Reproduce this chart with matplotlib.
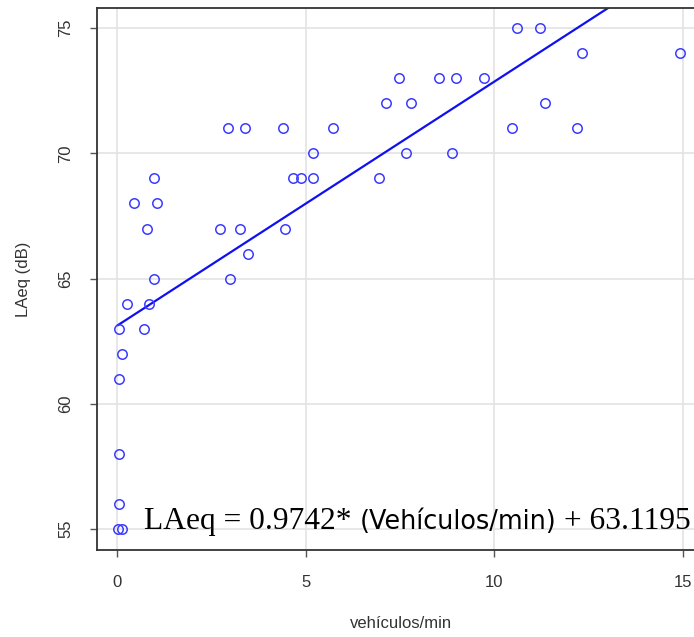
import numpy as np
import matplotlib
matplotlib.use("Agg")
import matplotlib.pyplot as plt

# vehicles per minute vs measured LAeq (dB)
veh_min = [0.05, 0.72, 0.13, 0.05, 0.05, 0.05, 0.03, 0.12,
           0.26, 0.86, 0.99, 2.99, 3.46, 0.80, 2.72, 3.25, 4.46,
           0.46, 1.06, 0.99, 4.66, 4.88, 5.19, 6.94, 5.19, 7.67, 8.87,
           2.93, 3.40, 4.40, 5.73, 10.47, 12.20, 7.13, 7.79, 11.34,
           7.47, 8.53, 8.99, 9.73, 12.33, 14.93, 10.60, 11.20]
laeq = [63, 63, 62, 61, 58, 56, 55, 55,
        64, 64, 65, 65, 66, 67, 67, 67, 67,
        68, 68, 69, 69, 69, 69, 69, 70, 70, 70,
        71, 71, 71, 71, 71, 71, 72, 72, 72,
        73, 73, 73, 73, 74, 74, 75, 75]

# regression coefficients shown on the chart
slope = 0.9742
intercept = 63.1195

x_ticks = [0, 5, 10, 15]
y_ticks = [55, 60, 65, 70, 75]

W, H = 694, 637
fig = plt.figure(figsize=(W / 100, H / 100), dpi=100)
ax = fig.add_axes([97 / W, (H - 550) / H, 608.6 / W, 542 / H])

ax.set_xlim(-0.53, 15.6)
ax.set_ylim(54.17, 75.8)

for xv in x_ticks:
    ax.axvline(xv, color="#e3e3e3", lw=1.2, zorder=0)
for yv in y_ticks:
    ax.axhline(yv, color="#e3e3e3", lw=1.2, zorder=0)

ax.plot(veh_min, laeq, "o", mfc="none", mec="#3b3bff", mew=1.1, ms=6.8, zorder=3)

xs = np.array([min(veh_min), max(veh_min)])
ax.plot(xs, slope * xs + intercept, color="#1010f0", lw=1.6, zorder=2)

ax.set_xticks(x_ticks)
ax.set_yticks(y_ticks)
ax.tick_params(direction="out", length=5, width=1, color="#555555",
               labelsize=12, labelcolor="#333333")
plt.setp(ax.get_yticklabels(), rotation=90, va="center")
for lab in ax.get_xticklabels() + ax.get_yticklabels():
    lab.set_family("Liberation Sans")
ax.tick_params(axis="x", pad=13)
ax.tick_params(axis="y", pad=12)
for s in ax.spines.values():
    s.set_color("#333333")
    s.set_linewidth(1.3)

ax.set_xlabel("vehículos/min", family="Liberation Sans", fontsize=12,
              color="#333333", labelpad=19)
ax.set_ylabel("LAeq (dB)", family="Liberation Sans", fontsize=12,
              color="#333333", labelpad=20)

# equation text, mixed fonts, chained left to right
fig.canvas.draw()
renderer = fig.canvas.get_renderer()
parts = [("LAeq = 0.9742* ", "Liberation Serif", 22.7),
         ("(Vehículos/min)", "DejaVu Sans", 18.4),
         (" + 63.1195", "Liberation Serif", 22.7)]
x0 = 144 / W
for txt, fam, sz in parts:
    t = fig.text(x0, (H - 529) / H, txt, family=fam, fontsize=sz,
                 va="baseline", ha="left", color="black")
    bb = t.get_window_extent(renderer)
    x0 = bb.x1 / W

fig.savefig("out.png", dpi=100)
